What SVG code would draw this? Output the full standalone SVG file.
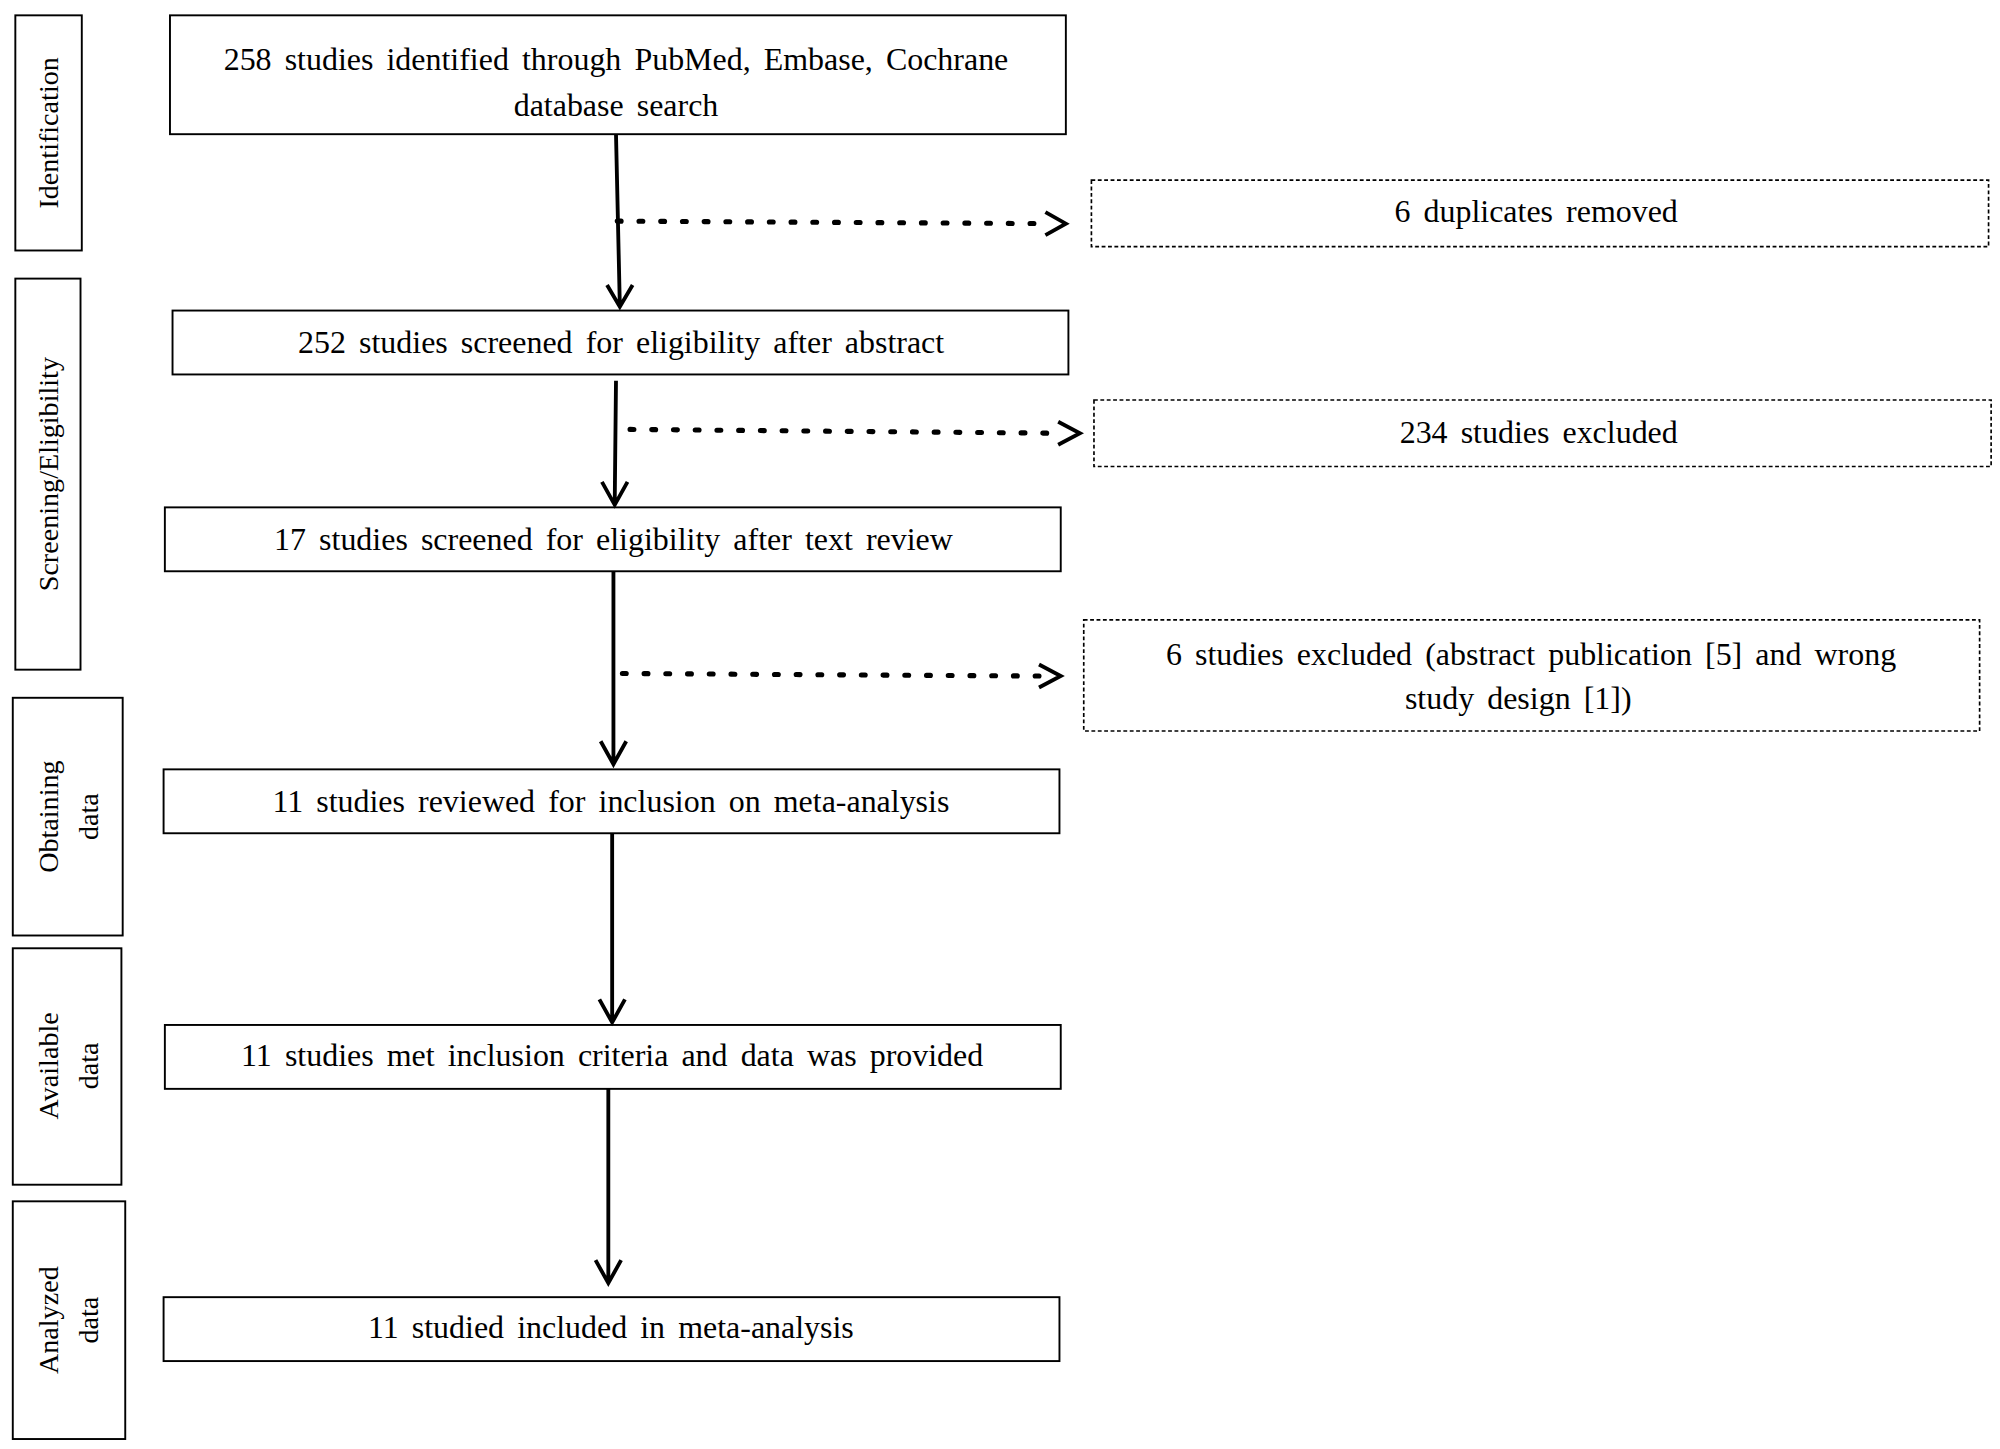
<svg xmlns="http://www.w3.org/2000/svg" width="2000" height="1449" viewBox="0 0 2000 1449">
<defs>
<style>
.b{fill:#fff;stroke:#000;stroke-width:1.5}
.d{fill:#fff;stroke:#000;stroke-width:1.3;stroke-dasharray:3,2}
.t{font-family:"Liberation Serif",serif;font-size:25px;text-anchor:middle;fill:#000;word-spacing:4px}
.s{font-family:"Liberation Serif",serif;font-size:22px;text-anchor:middle;fill:#000}
.a{stroke:#000;stroke-width:3;fill:none}
.p{stroke:#000;stroke-width:4;fill:none;stroke-dasharray:3,14;stroke-linecap:round}
</style>
</defs>
<rect width="2000" height="1449" fill="#fff"/>
<g transform="scale(1.278)">
<g id="stage-identification"><rect class="b" x="12" y="12" width="52" height="184"/><text class="s" transform="translate(45,104) rotate(-90)">Identification</text></g>
<g id="stage-screening"><rect class="b" x="12" y="218" width="51" height="306"/><text class="s" transform="translate(45,371) rotate(-90)">Screening/Eligibility</text></g>
<g id="stage-obtaining"><rect class="b" x="10" y="546" width="86" height="186"/><text class="s" transform="translate(45,639) rotate(-90)">Obtaining</text><text class="s" transform="translate(77,639) rotate(-90)">data</text></g>
<g id="stage-available"><rect class="b" x="10" y="742" width="85" height="185"/><text class="s" transform="translate(45,834) rotate(-90)">Available</text><text class="s" transform="translate(77,834) rotate(-90)">data</text></g>
<g id="stage-analyzed"><rect class="b" x="10" y="940" width="88" height="186"/><text class="s" transform="translate(45,1033) rotate(-90)">Analyzed</text><text class="s" transform="translate(77,1033) rotate(-90)">data</text></g>

<g id="n1"><rect class="b" x="133" y="12" width="701" height="93"/><text class="t" x="482" y="55">258 studies identified through PubMed, Embase, Cochrane</text><text class="t" x="482" y="91">database search</text></g>
<g id="n2"><rect class="b" x="135" y="243" width="701" height="50"/><text class="t" x="486" y="276">252 studies screened for eligibility after abstract</text></g>
<g id="n3"><rect class="b" x="129" y="397" width="701" height="50"/><text class="t" x="480" y="430">17 studies screened for eligibility after text review</text></g>
<g id="n4"><rect class="b" x="128" y="602" width="701" height="50"/><text class="t" x="478" y="635">11 studies reviewed for inclusion on meta-analysis</text></g>
<g id="n5"><rect class="b" x="129" y="802" width="701" height="50"/><text class="t" x="479" y="834">11 studies met inclusion criteria and data was provided</text></g>
<g id="n6"><rect class="b" x="128" y="1015" width="701" height="50"/><text class="t" x="478" y="1047">11 studied included in meta-analysis</text></g>
<g id="x1"><rect class="d" x="854" y="141" width="702" height="52"/><text class="t" x="1202" y="174">6 duplicates removed</text></g>
<g id="x2"><rect class="d" x="856" y="313" width="702" height="52"/><text class="t" x="1204" y="347">234 studies excluded</text></g>
<g id="x3"><rect class="d" x="848" y="485" width="701" height="87"/><text class="t" x="1198" y="520">6 studies excluded (abstract publication [5] and wrong</text><text class="t" x="1188" y="555">study design [1])</text></g>

<g id="connectors">
<path class="a" d="M482,105 L485,239 M475,223 L485,240 L495,223"/>
<path class="a" d="M482,298 L481,394 M471,377 L481,395 L491,377"/>
<path class="a" d="M480,447 L480,597 M470,580 L480,598 L490,580"/>
<path class="a" d="M479,652 L479,799 M469,782 L479,800 L489,782"/>
<path class="a" d="M476,852 L476,1003 M466,986 L476,1004 L486,986"/>
<path class="p" d="M483,173 L820,175"/><path class="a" d="M818,166 L834,175 L818,184"/>
<path class="p" d="M493,336 L830,339"/><path class="a" d="M828,330 L845,339 L828,348"/>
<path class="p" d="M487,527 L815,529"/><path class="a" d="M813,520 L830,529 L813,538"/>
</g>
</g>
</svg>
